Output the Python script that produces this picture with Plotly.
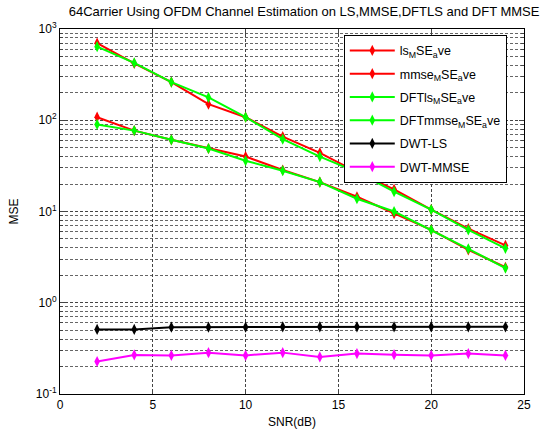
import plotly.graph_objects as go

snr = [2, 4, 6, 8, 10, 12, 14, 16, 18, 20, 22, 24]
ls_mse = [700, 420, 262, 150, 108, 66, 44, 27, 17.5, 10.5, 6.5, 4.25]
mmse_mse = [108, 77, 61, 49, 40, 28.5, 21, 14.5, 9.5, 6.3, 3.8, 2.45]
dftls_mse = [640, 425, 262, 178, 108, 62, 40, 27, 16.5, 10.5, 6.3, 3.95]
dftmmse_mse = [90, 77, 61, 49, 36, 28, 21, 13.8, 10, 6.3, 3.9, 2.4]
dwt_ls = [0.51, 0.51, 0.54, 0.54, 0.54, 0.545, 0.545, 0.545, 0.545, 0.545, 0.545, 0.545]
dwt_mmse = [0.227, 0.268, 0.265, 0.284, 0.265, 0.284, 0.255, 0.277, 0.27, 0.265, 0.277, 0.265]

names = ["ls<sub>M</sub>SE<sub>a</sub>ve", "mmse<sub>M</sub>SE<sub>a</sub>ve",
         "DFTls<sub>M</sub>SE<sub>a</sub>ve", "DFTmmse<sub>M</sub>SE<sub>a</sub>ve",
         "DWT-LS", "DWT-MMSE"]
series = [ls_mse, mmse_mse, dftls_mse, dftmmse_mse, dwt_ls, dwt_mmse]
colors = ["#ff0000", "#ff0000", "#00ff00", "#00ff00", "#000000", "#ff00ff"]

ytickvals = [0.1, 1, 10, 100, 1000]
yticktext = ["10<sup>-1</sup>", "10<sup>0</sup>", "10<sup>1</sup>", "10<sup>2</sup>", "10<sup>3</sup>"]
minor_vals = [m * d for d in [0.1, 1, 10, 100] for m in range(2, 10)]

fig = go.Figure()
for i, (nm, ys, c) in enumerate(zip(names, series, colors)):
    fig.add_trace(go.Scatter(
        x=snr, y=ys, name=nm, mode="lines+markers", legendgroup=f"g{i}",
        line=dict(color=c, width=2),
        marker=dict(symbol="diamond-tall", size=8, color=c),
    ))

font = "Liberation Sans, Arial, sans-serif"
grid = dict(gridcolor="#444444", griddash="3px,2px", gridwidth=1)
fig.update_layout(
    width=543, height=439,
    margin=dict(l=60, r=17, t=29, b=43),
    paper_bgcolor="white", plot_bgcolor="white",
    font=dict(family=font, size=12, color="black"),
    title=dict(text="64Carrier Using OFDM Channel Estimation on LS,MMSE,DFTLS and DFT MMSE",
               x=0.56, xanchor="center", y=0.975, yanchor="middle",
               font=dict(size=13, family=font)),
    legend=dict(x=0.6116, y=0.984, xanchor="left", yanchor="top",
                bgcolor="white", bordercolor="black", borderwidth=1,
                itemwidth=45,
                font=dict(size=12.5, family=font), tracegroupgap=4),
    showlegend=True,
)
fig.update_xaxes(range=[0, 25], dtick=5, tick0=0, ticks="inside", ticklen=5,
                 showline=True, linecolor="black", linewidth=1, mirror="ticks",
                 showgrid=True, zeroline=False,
                 title=dict(text="SNR(dB)", standoff=6, font=dict(size=12)),
                 **grid)
fig.update_yaxes(type="log", range=[-1, 3], tickvals=ytickvals, ticktext=yticktext,
                 ticks="inside", ticklen=5,
                 showline=True, linecolor="black", linewidth=1, mirror="ticks",
                 showgrid=True, zeroline=False,
                 minor=dict(tickvals=minor_vals, ticks="inside", ticklen=3, showgrid=True,
                            gridcolor="#666666", griddash="3px,2px", gridwidth=1),
                 title=dict(text="MSE", standoff=14, font=dict(size=12)),
                 **grid)

fig.write_html("out.html")
